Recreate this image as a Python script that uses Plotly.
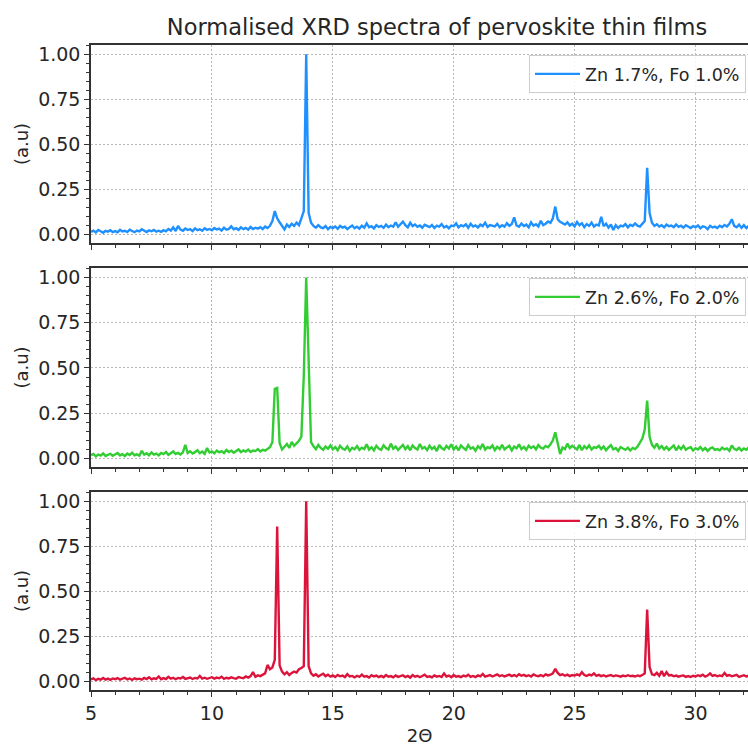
import plotly.graph_objects as go
from plotly.subplots import make_subplots

# 2-theta axis (degrees), 0.1 step from 5.0 to 32.3
two_theta = [round(5.0 + 0.1 * i, 1) for i in range(274)]

labels = ["Zn 1.7%, Fo 1.0%", "Zn 2.6%, Fo 2.0%", "Zn 3.8%, Fo 3.0%"]
colors = ["#1E90FF", "#32CD32", "#DC143C"]

film_1 = [
    0.015, 0.022, 0.012, 0.025, 0.018, 0.010, 0.020, 0.016, 0.024, 0.013,
    0.019, 0.012, 0.026, 0.017, 0.021, 0.014, 0.027, 0.018, 0.013, 0.022,
    0.017, 0.029, 0.020, 0.014, 0.023, 0.018, 0.026, 0.016, 0.021, 0.015,
    0.024, 0.018, 0.031, 0.022, 0.040, 0.019, 0.048, 0.027, 0.021, 0.033,
    0.025, 0.030, 0.019, 0.034, 0.024, 0.029, 0.021, 0.035, 0.026, 0.031,
    0.024, 0.036, 0.028, 0.033, 0.022, 0.038, 0.027, 0.031, 0.045, 0.029,
    0.035, 0.026, 0.040, 0.030, 0.037, 0.027, 0.042, 0.031, 0.038, 0.033,
    0.041, 0.030, 0.044, 0.036, 0.048, 0.075, 0.130, 0.090, 0.068, 0.050,
    0.028, 0.055, 0.042, 0.060, 0.048, 0.066, 0.052, 0.090, 0.130, 1.000,
    0.120, 0.065, 0.048, 0.038, 0.052, 0.040, 0.035, 0.047, 0.030, 0.042,
    0.036, 0.045, 0.032, 0.048, 0.038, 0.044, 0.030, 0.041, 0.050, 0.035,
    0.043, 0.033, 0.049, 0.038, 0.062, 0.040, 0.046, 0.034, 0.052, 0.042,
    0.048, 0.037, 0.055, 0.041, 0.050, 0.044, 0.068, 0.043, 0.058, 0.072,
    0.052, 0.040, 0.065, 0.047, 0.056, 0.043, 0.050, 0.038, 0.054, 0.045,
    0.041, 0.053, 0.036, 0.049, 0.044, 0.058, 0.039, 0.047, 0.035, 0.050,
    0.046, 0.062, 0.040, 0.052, 0.045, 0.057, 0.038, 0.060, 0.044, 0.051,
    0.039, 0.055, 0.047, 0.066, 0.042, 0.053, 0.048, 0.045, 0.059, 0.041,
    0.052, 0.044, 0.063, 0.048, 0.058, 0.095, 0.050, 0.043, 0.061, 0.047,
    0.055, 0.040, 0.068, 0.049, 0.057, 0.045, 0.076, 0.052, 0.060, 0.072,
    0.065, 0.090, 0.155, 0.085, 0.070, 0.062, 0.055, 0.068, 0.050, 0.060,
    0.045, 0.070, 0.052, 0.063, 0.041, 0.058, 0.048, 0.066, 0.044, 0.055,
    0.050, 0.098, 0.046, 0.060, 0.038, 0.056, 0.025, 0.052, 0.036, 0.049,
    0.045, 0.058, 0.040, 0.054, 0.047, 0.062, 0.049, 0.044, 0.060, 0.075,
    0.370, 0.120, 0.065, 0.048, 0.057, 0.044, 0.052, 0.040, 0.055, 0.046,
    0.050, 0.041, 0.056, 0.043, 0.049, 0.038, 0.052, 0.044, 0.036, 0.047,
    0.040, 0.051, 0.035, 0.046, 0.042, 0.030, 0.048, 0.039, 0.044, 0.036,
    0.049, 0.041, 0.053, 0.045, 0.060, 0.085, 0.048, 0.040, 0.055, 0.037,
    0.052, 0.036, 0.047, 0.041,
]

film_2 = [
    0.018, 0.025, 0.012, 0.022, 0.016, 0.028, 0.014, 0.020, 0.026, 0.015,
    0.021, 0.030, 0.017, 0.024, 0.013, 0.027, 0.019, 0.032, 0.018, 0.023,
    0.016, 0.042, 0.021, 0.029, 0.018, 0.033, 0.022, 0.027, 0.017, 0.031,
    0.024, 0.036, 0.020, 0.028, 0.039, 0.025, 0.031, 0.022, 0.034, 0.075,
    0.030, 0.040, 0.027, 0.035, 0.046, 0.029, 0.038, 0.025, 0.058, 0.033,
    0.039, 0.028, 0.044, 0.034, 0.041, 0.030, 0.047, 0.036, 0.043, 0.032,
    0.040, 0.050, 0.035, 0.045, 0.038, 0.049, 0.036, 0.044, 0.041, 0.052,
    0.039, 0.048, 0.043, 0.055, 0.062, 0.090, 0.385, 0.390, 0.085, 0.050,
    0.065, 0.080, 0.058, 0.092, 0.070, 0.085, 0.098, 0.120, 0.460, 1.000,
    0.560, 0.090, 0.068, 0.052, 0.075, 0.058, 0.048, 0.066, 0.054, 0.072,
    0.050, 0.063, 0.045, 0.070, 0.055, 0.048, 0.066, 0.042, 0.059, 0.051,
    0.068, 0.047, 0.060, 0.052, 0.078, 0.049, 0.062, 0.045, 0.070, 0.055,
    0.048, 0.073, 0.058, 0.050, 0.082, 0.054, 0.066, 0.047, 0.061, 0.075,
    0.052, 0.068, 0.045, 0.072, 0.058, 0.050, 0.080, 0.055, 0.063, 0.046,
    0.070, 0.052, 0.064, 0.041, 0.075, 0.058, 0.049, 0.069, 0.055, 0.078,
    0.050, 0.066, 0.045, 0.072, 0.059, 0.048, 0.074, 0.054, 0.062, 0.043,
    0.068, 0.055, 0.080, 0.049, 0.063, 0.057, 0.072, 0.046, 0.065, 0.052,
    0.075, 0.050, 0.061, 0.070, 0.045, 0.066, 0.056, 0.078, 0.052, 0.064,
    0.048, 0.071, 0.058, 0.067, 0.050, 0.074, 0.060, 0.055, 0.069, 0.062,
    0.078, 0.100, 0.145, 0.085, 0.025, 0.060, 0.052, 0.082, 0.058, 0.070,
    0.062, 0.050, 0.075, 0.046, 0.068, 0.055, 0.072, 0.049, 0.063, 0.058,
    0.070, 0.052, 0.066, 0.045, 0.061, 0.074, 0.050, 0.058, 0.042, 0.063,
    0.055, 0.048, 0.060, 0.044, 0.058, 0.052, 0.065, 0.085, 0.110, 0.160,
    0.320, 0.120, 0.075, 0.060, 0.082, 0.055, 0.068, 0.050, 0.064, 0.047,
    0.060, 0.072, 0.045, 0.066, 0.052, 0.070, 0.048, 0.058, 0.062, 0.044,
    0.057, 0.050, 0.063, 0.046, 0.058, 0.042, 0.055, 0.061, 0.048, 0.052,
    0.045, 0.060, 0.050, 0.056, 0.042, 0.072, 0.053, 0.047, 0.059, 0.044,
    0.055, 0.048, 0.062, 0.051,
]

film_3 = [
    0.012, 0.018, 0.008, 0.015, 0.010, 0.020, 0.011, 0.016, 0.009, 0.017,
    0.013, 0.019, 0.010, 0.015, 0.021, 0.012, 0.017, 0.009, 0.018, 0.013,
    0.016, 0.011, 0.020, 0.014, 0.024, 0.012, 0.018, 0.015, 0.028, 0.013,
    0.019, 0.014, 0.026, 0.016, 0.021, 0.013, 0.020, 0.017, 0.025, 0.015,
    0.018, 0.022, 0.014, 0.020, 0.017, 0.031, 0.016, 0.021, 0.015, 0.019,
    0.024, 0.016, 0.022, 0.018, 0.027, 0.015, 0.021, 0.017, 0.023, 0.019,
    0.016, 0.025, 0.020, 0.018, 0.028, 0.022, 0.030, 0.052, 0.026, 0.034,
    0.030, 0.038, 0.045, 0.092, 0.068, 0.078, 0.120, 0.860, 0.090, 0.055,
    0.040, 0.052, 0.036, 0.048, 0.055, 0.050, 0.068, 0.075, 0.085, 1.000,
    0.085, 0.045, 0.032, 0.040, 0.028, 0.036, 0.043, 0.030, 0.038, 0.027,
    0.034, 0.025, 0.037, 0.029, 0.033, 0.024, 0.041, 0.028, 0.031, 0.023,
    0.032, 0.026, 0.038, 0.027, 0.030, 0.022, 0.035, 0.028, 0.033, 0.025,
    0.031, 0.024, 0.036, 0.027, 0.030, 0.023, 0.034, 0.026, 0.029, 0.035,
    0.025, 0.031, 0.022, 0.036, 0.027, 0.032, 0.024, 0.030, 0.038, 0.026,
    0.029, 0.023, 0.034, 0.027, 0.031, 0.025, 0.045, 0.028, 0.033, 0.024,
    0.036, 0.027, 0.030, 0.024, 0.033, 0.028, 0.038, 0.026, 0.031, 0.025,
    0.034, 0.029, 0.042, 0.027, 0.032, 0.036, 0.028, 0.033, 0.040, 0.030,
    0.035, 0.028, 0.033, 0.038, 0.030, 0.036, 0.029, 0.041, 0.032, 0.037,
    0.030, 0.035, 0.028, 0.039, 0.033, 0.030, 0.036, 0.029, 0.040, 0.034,
    0.038, 0.045, 0.070, 0.048, 0.035, 0.040, 0.032, 0.038, 0.030, 0.036,
    0.033, 0.040, 0.034, 0.052, 0.036, 0.031, 0.039, 0.034, 0.045, 0.032,
    0.037, 0.030, 0.035, 0.028, 0.033, 0.036, 0.029, 0.034, 0.031, 0.027,
    0.033, 0.029, 0.035, 0.030, 0.032, 0.028, 0.034, 0.030, 0.036, 0.045,
    0.400, 0.080, 0.040, 0.035, 0.048, 0.032, 0.058, 0.030, 0.052, 0.034,
    0.036, 0.029, 0.033, 0.027, 0.031, 0.034, 0.026, 0.030, 0.025, 0.032,
    0.028, 0.035, 0.030, 0.038, 0.027, 0.033, 0.045, 0.031, 0.036, 0.029,
    0.034, 0.030, 0.048, 0.032, 0.036, 0.029, 0.033, 0.037, 0.026, 0.030,
    0.035, 0.028, 0.033, 0.030,
]

y_ticks = [0.0, 0.25, 0.5, 0.75, 1.0]
x_ticks = [5, 10, 15, 20, 25, 30]

W, H = 748, 746
L, R, T, B = 91, 0, 45, 56
PW, PH = W - L - R, H - T - B

def py(pix):  # pixel row -> paper y
    return (H - B - pix) / PH

TXT = "#262626"
FONT = "DejaVu Sans"
GRID = "#b8b8b8"
GDASH = "1.5px,2.5px"

fig = make_subplots(rows=3, cols=1)
series = [film_1, film_2, film_3]
legend_tops = [55, 278, 502]
panels = [(45, 243), (268, 467), (492, 690)]

for i, (vals, lab, col) in enumerate(zip(series, labels, colors)):
    assert len(vals) == len(two_theta)
    lg = "legend" if i == 0 else f"legend{i+1}"
    fig.add_trace(go.Scatter(x=two_theta, y=vals, mode="lines", name=lab,
                             line=dict(color=col, width=2.4), legend=lg),
                  row=i + 1, col=1)

for i in range(3):
    top, bot = panels[i]
    sfx = "" if i == 0 else str(i + 1)
    fig.layout["xaxis" + sfx].update(
        range=[5, 32.17], showline=True, linecolor="#333333", linewidth=1.5,
        mirror=True, ticks="outside", ticklen=5, tickwidth=1.3, tickcolor="#333333",
        tickvals=x_ticks, showticklabels=(i == 2), showgrid=True,
        gridcolor=GRID, griddash=GDASH, gridwidth=1, zeroline=False,
        tickfont=dict(size=19, color=TXT, family=FONT),
        minor=dict(ticks="outside", ticklen=3, dtick=1, tick0=5,
                   tickcolor="#333333", tickwidth=1, showgrid=False),
    )
    fig.layout["yaxis" + sfx].update(
        domain=[py(bot), py(top)], range=[-0.047, 1.052],
        showline=True, linecolor="#333333", linewidth=1.5, mirror=False,
        ticks="outside", ticklen=5, tickwidth=1.3, tickcolor="#333333",
        tickvals=y_ticks, tickformat=".2f", showgrid=True,
        gridcolor=GRID, griddash=GDASH, gridwidth=1, zeroline=False,
        tickfont=dict(size=19, color=TXT, family=FONT),
        title=dict(text="(a.u)", font=dict(size=18, color=TXT, family=FONT), standoff=5),
        minor=dict(ticks="outside", ticklen=3, dtick=0.05, tick0=0,
                   tickcolor="#333333", tickwidth=1, showgrid=False),
    )
    lg = "legend" if i == 0 else f"legend{i+1}"
    fig.layout[lg] = dict(
        x=(746 - L) / PW, xanchor="right", y=py(legend_tops[i]), yanchor="top",
        bordercolor="#cccccc", borderwidth=1, bgcolor="rgba(255,255,255,0.85)",
        font=dict(size=17.5, color=TXT, family=FONT), itemwidth=45,
    )

fig.layout.xaxis3.title = dict(text="2Θ", font=dict(size=18, color=TXT, family=FONT), standoff=8)

fig.update_layout(
    width=W, height=H, margin=dict(l=L, r=R, t=T, b=B),
    paper_bgcolor="white", plot_bgcolor="white", showlegend=True,
    font=dict(family=FONT, color=TXT),
    title=dict(text="Normalised XRD spectra of pervoskite thin films",
               x=437 / W, xref="container", xanchor="center",
               y=1 - 27 / H, yref="container", yanchor="middle",
               font=dict(size=22.5, color=TXT, family=FONT)),
)

fig.write_html("out.html", config={"displayModeBar": False},
               post_script="document.body.style.margin='0px';document.body.style.overflow='hidden';")
